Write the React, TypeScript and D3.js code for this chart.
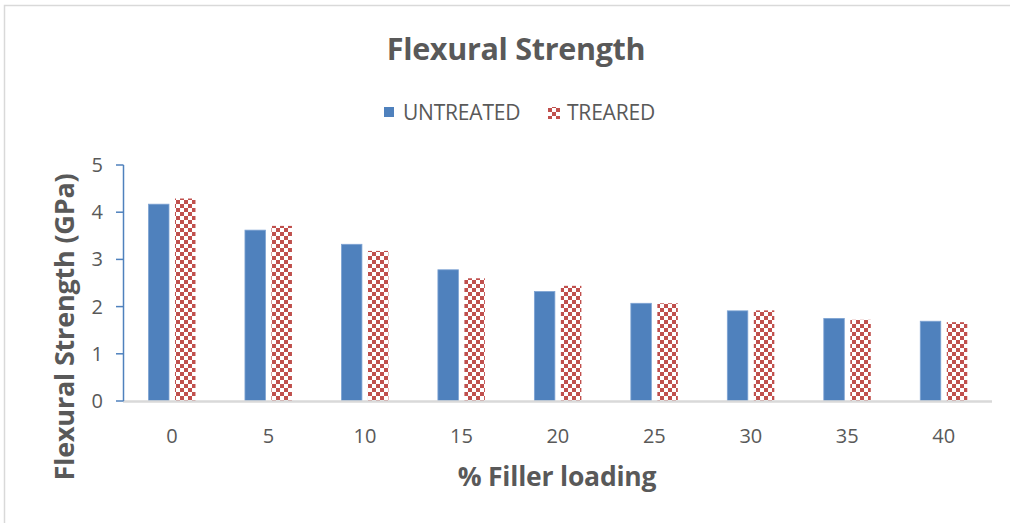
import React from "react";
import * as d3 from "d3";

const categories = ["0", "5", "10", "15", "20", "25", "30", "35", "40"];
const untreated = [4.17, 3.62, 3.32, 2.78, 2.32, 2.07, 1.91, 1.75, 1.69];
const treated = [4.29, 3.71, 3.18, 2.6, 2.44, 2.07, 1.92, 1.72, 1.67];
const yTicks = [0, 1, 2, 3, 4, 5];
const seriesNames = ["UNTREATED", "TREARED"];

const W = 1010;
const H = 523;
const FONT = "'Open Sans', 'Noto Sans', sans-serif";
const BLUE = "#4f81bd";
const RED = "#c0504d";
const TEXT = "#595959";

export default function App() {
  const x = d3.scaleBand<string>().domain(categories).range([123.75, 992]);
  const y = d3.scaleLinear().domain([0, 5]).range([401, 165]);
  const barW = 20.5;
  const gap = 6;

  return (
    <svg
      width={W}
      height={H}
      style={{ position: "absolute", left: 0, top: 0, background: "#fff" }}
    >
      <defs>
        <pattern id="checker" width="8" height="8" patternUnits="userSpaceOnUse">
          <rect width="8" height="8" fill="#fff" />
          <rect x="0" y="0" width="4" height="4" fill={RED} />
          <rect x="4" y="4" width="4" height="4" fill={RED} />
        </pattern>
      </defs>
      <rect x={4.5} y={5.5} width={W + 20} height={H + 20} fill="#fff" stroke="#d9d9d9" strokeWidth={1.5} />

      <text x={516} y={60} textAnchor="middle" fontFamily={FONT} fontWeight={700} fontSize={30.5} fill={TEXT} letterSpacing={-0.3}>
        Flexural Strength
      </text>

      {/* legend */}
      <rect x={384} y={107} width={10} height={10} fill={BLUE} />
      <text x={403} y={120} fontFamily={FONT} fontSize={21} fill={TEXT} letterSpacing={-0.2}>{seriesNames[0]}</text>
      <rect x={548} y={107} width={12} height={12} fill="url(#checker)" />
      <text x={567} y={120} fontFamily={FONT} fontSize={21} fill={TEXT} letterSpacing={-0.2}>{seriesNames[1]}</text>

      {/* bars */}
      {categories.map((c, i) => {
        const cx = (x(c) as number) + x.bandwidth() / 2;
        return (
          <g key={c}>
            <rect
              x={cx - gap / 2 - barW}
              y={y(untreated[i])}
              width={barW}
              height={y(0) - y(untreated[i])}
              fill={BLUE}
              stroke="#7ea3d3"
              strokeWidth={0.8}
            />
            <rect
              x={cx + gap / 2}
              y={y(treated[i])}
              width={barW}
              height={y(0) - y(treated[i])}
              fill="url(#checker)"
            />
          </g>
        );
      })}

      {/* x axis */}
      <line x1={123} x2={992} y1={401.5} y2={401.5} stroke="#d9d9d9" strokeWidth={2.5} />
      {categories.map((c) => (
        <text
          key={c}
          x={(x(c) as number) + x.bandwidth() / 2}
          y={443}
          textAnchor="middle"
          fontFamily={FONT}
          fontSize={20}
          fill={TEXT}
        >
          {c}
        </text>
      ))}

      {/* y axis */}
      <line x1={123.5} x2={123.5} y1={y(5)} y2={y(0)} stroke={BLUE} strokeWidth={1.5} />
      {yTicks.map((t) => (
        <g key={t}>
          <line x1={116} x2={123.5} y1={y(t)} y2={y(t)} stroke={BLUE} strokeWidth={1.5} />
          <text x={103} y={y(t) + 7} textAnchor="end" fontFamily={FONT} fontSize={20} fill={TEXT}>
            {t}
          </text>
        </g>
      ))}

      <text
        transform={`translate(74,327) rotate(-90)`}
        textAnchor="middle"
        fontFamily={FONT}
        fontWeight={700}
        fontSize={27}
        fill={TEXT}
        letterSpacing={-0.2}
      >
        Flexural Strength (GPa)
      </text>
      <text x={557} y={486} textAnchor="middle" fontFamily={FONT} fontWeight={700} fontSize={26.5} fill={TEXT} letterSpacing={-0.2}>
        % Filler loading
      </text>
    </svg>
  );
}
